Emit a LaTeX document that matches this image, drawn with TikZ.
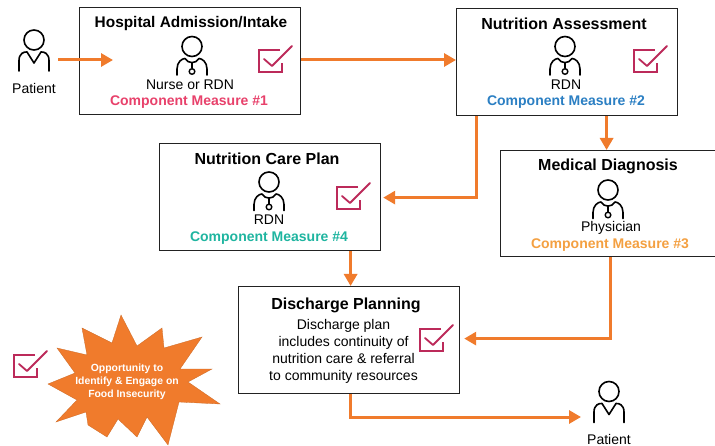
\documentclass[tikz,border=0pt]{standalone}
\usepackage{fontspec}
\setmainfont{Liberation Sans}
\usetikzlibrary{arrows.meta,calc}
\definecolor{arrowor}{HTML}{F07B2C}
\definecolor{chk}{HTML}{BC2A5A}
\definecolor{boxln}{HTML}{222222}
\definecolor{cmone}{HTML}{E8416B}
\definecolor{cmtwo}{HTML}{2B7FC3}
\definecolor{cmthree}{HTML}{F4A041}
\definecolor{cmfour}{HTML}{1FB5A0}
\tikzset{
 stagebox/.style={draw=boxln,line width=1.2pt,fill=white,minimum width=#1,inner sep=0pt,anchor=north west},
 flow/.style={draw=arrowor,line width=3pt,-{Triangle[length=12pt,width=13pt]}},
 ttl/.style={font=\fontsize{16}{18}\selectfont\bfseries,text=black,inner sep=0pt},
 lbl/.style={font=\fontsize{14}{16}\selectfont,text=black,inner sep=0pt},
 cmlabel/.style={font=\fontsize{14}{16}\selectfont\bfseries,inner sep=0pt},
 pics/patient/.style={code={
   \draw[black,line width=1.6pt] (0,-14.5) circle (10);
   \draw[black,line width=1.6pt,line cap=round,line join=round] (-15,16.5) -- (-15,6) .. controls (-15,-1) and (-10,-3) .. (-7,-2.5) -- (0,8.5) -- (7,-2.5) .. controls (10,-3) and (15,-1) .. (15,6) -- (15,16.5);
 }},
 pics/clinician/.style={code={
   \draw[black,line width=1.6pt] (0,-14.5) circle (10);
   \draw[black,line width=1.6pt,line cap=round,line join=round] (-15,14) -- (-15,8) .. controls (-15,1) and (-10,-2.5) .. (-7,-2.5) .. controls (-4,3) and (4,3) .. (7,-2.5) .. controls (10,-2.5) and (15,1) .. (15,8) -- (15,14);
   \draw[black,line width=1.6pt] (0,1) -- (0,7.5);
   \draw[black,line width=1.4pt] (0,10.5) circle (2.8);
 }},
 pics/tick/.style={code={
   \draw[chk,line width=1.8pt] (5,-7) -- (-16,-7) -- (-16,15) -- (7,15) -- (7,6);
   \draw[chk,line width=1.8pt,line cap=round,line join=round] (-11,2) -- (-3,9) -- (17,-11);
 }},
}
\begin{document}
\begin{tikzpicture}[x=1pt,y=-1pt]
\useasboundingbox (0,0) rectangle (715,446);
\fill[white] (0,0) rectangle (715,446);
% boxes
\node[stagebox=221pt,minimum height=107pt] (adm) at (79,7) {};
\node[stagebox=221pt,minimum height=107pt] (ass) at (456,8) {};
\node[stagebox=216pt,minimum height=106pt] (med) at (500,150) {};
\node[stagebox=221pt,minimum height=107pt] (care) at (159,143) {};
\node[stagebox=221pt,minimum height=107pt] (dis) at (238,286) {};
% connector anchors
\coordinate (p1out) at (58,60);
\coordinate (admin) at (113,60);
\coordinate (p2in) at (581,417);
\coordinate (yadm) at (0,60);
% connectors
\draw[flow] (p1out) -- (admin);
\draw[flow] (adm.east |- yadm) -- (ass.west |- yadm);
\draw[flow] ($(ass.south west)+(20,0)$) |- ($(care.east)+(2,0.5)$);
\draw[flow] ($(ass.south)+(39.5,0)$) -- ($(med.north)+(-2,0)$);
\draw[flow] ($(care.south)+(80.5,0)$) -- ($(dis.north)+(1.5,0)$);
\draw[flow] ($(med.south)+(2,0)$) |- ($(dis.east)+(4,-1.5)$);
\draw[flow] ($(dis.south)+(1.5,0)$) |- (p2in);
% patient icons
\pic at (34,54.5) {patient};
\pic at (609,406) {patient};
\node[lbl] (pt1) at (34,88.5) {Patient};
\node[lbl] (pt2) at (609,439.5) {Patient};
% Hospital
\node[ttl,font=\fontsize{15.4}{17}\selectfont\bfseries] (admt) at (191,24) {Hospital Admission/Intake};
\pic at (192,61) {clinician};
\node[lbl] (admr) at (190,85) {Nurse or RDN};
\node[cmlabel,text=cmone] (admc) at (189,102) {Component Measure \#1};
\pic at (275,57) {tick};
% Assessment
\node[ttl] (asst) at (564,24) {Nutrition Assessment};
\pic at (565,61) {clinician};
\node[lbl] (assr) at (566,85) {RDN};
\node[cmlabel,text=cmtwo] (assc) at (566,102) {Component Measure \#2};
\pic at (650,57) {tick};
% Care
\node[ttl] (caret) at (267,159) {Nutrition Care Plan};
\pic at (269,196.5) {clinician};
\node[lbl] (carer) at (269,220) {RDN};
\node[cmlabel,text=cmfour] (carec) at (269,238) {Component Measure \#4};
\pic at (353,194) {tick};
% Medical
\node[ttl] (medt) at (608,166) {Medical Diagnosis};
\pic at (608,204.5) {clinician};
\node[lbl] (medr) at (611,228) {Physician};
\node[cmlabel,text=cmthree] (medc) at (610,245) {Component Measure \#3};
% Discharge
\node[ttl] (dist) at (346,305) {Discharge Planning};
\node[lbl,align=center,font=\fontsize{14}{17}\selectfont] (dist2) at (343.5,351.5) {Discharge plan\\includes continuity of\\nutrition care \& referral\\to community resources};
\pic at (436,336) {tick};
% burst
\pic at (30,362) {tick};
\path[fill=arrowor,draw=arrowor!85!black,line width=.3pt] (121,315) -- (137,346) -- (162,328) -- (164,348) -- (202,337) -- (180,369) -- (212,369) -- (188,382) -- (220,404) -- (179,402) -- (168,445) -- (147,417) -- (137,437) -- (118,419) -- (107,437) -- (88,425) -- (86,412) -- (56,422) -- (77,400) -- (48,384) -- (75,373) -- (57,348) -- (87,355) -- (82,328) -- (112,343) -- cycle;
\node[align=center,font=\fontsize{10.4}{13}\selectfont\bfseries,text=white,inner sep=0pt] (burst) at (127,382) {Opportunity to\\Identify \& Engage on\\Food Insecurity};
\end{tikzpicture}
\end{document}
